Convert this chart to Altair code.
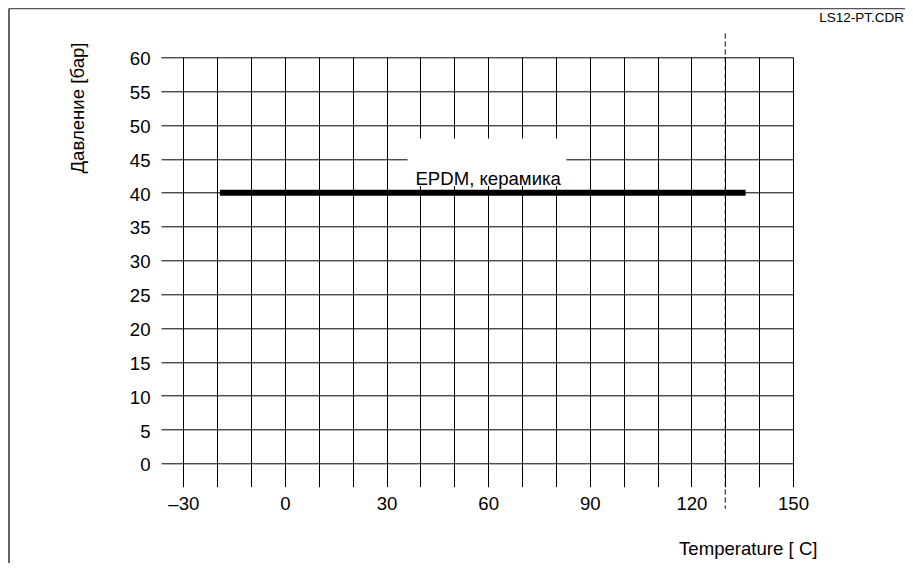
import altair as alt
import pandas as pd

# ---- data ----
x_grid = list(range(-30, 151, 10))          # temperature grid lines
y_grid = list(range(0, 61, 5))              # pressure grid lines
x_domain = [-36.6, 150]
y_domain = [-3.45, 60]

series_name = ["EPDM, керамика"]
series_t_start = [-19.2]
series_t_end = [136]
series_pressure = [40]

limit_temp = [130]
limit_p_top = [63.5]
limit_p_bottom = [-6.7]

box_t = [36.2]
box_t2 = [83.1]
box_p = [41]
box_p2 = [48]

label_t = [60]
label_p = [40]

corner_text = "LS12-PT.CDR"
x_title = "Temperature [ C]"
y_title = "Давление [бар]"

FONT = "Liberation Sans"
FS = 18.6
W, H = 632, 429.4

xscale = alt.Scale(domain=x_domain, nice=False, zero=False)
yscale = alt.Scale(domain=y_domain, nice=False, zero=False)

x_axis = alt.Axis(
    values=x_grid, tickCount=100, grid=True, gridColor="black", gridWidth=1, gridOpacity=1,
    domain=False, ticks=False, tickSize=0,
    labelExpr="datum.value % 30 == 0 ? (datum.value < 0 ? '\u2013' + abs(datum.value) : '' + datum.value) : ''",
    labelFont=FONT, labelFontSize=FS, labelColor="black", labelPadding=7.5,
    labelFlush=False, labelOverlap=False,
    title=x_title, titleFont=FONT, titleFontSize=FS, titleFontWeight="normal",
    titleColor="black", titleX=656, titleY=67.3, titleAlign="right",
    titleBaseline="alphabetic",
)
y_axis = alt.Axis(
    values=y_grid, tickCount=100, grid=True, gridColor="black", gridWidth=1, gridOpacity=1,
    domain=False, ticks=False, tickSize=0,
    labelExpr="'' + datum.value",
    labelFont=FONT, labelFontSize=FS, labelColor="black", labelPadding=11,
    labelBaseline="alphabetic", labelOffset=7.5,
    labelFlush=False, labelOverlap=False,
    title=y_title, titleFont=FONT, titleFontSize=FS, titleFontWeight="normal",
    titleColor="black", titleX=-78, titleY=50.2, titleAlign="center",
    titleBaseline="alphabetic", titleAngle=270,
)

df_series = pd.DataFrame({"name": series_name, "t0": series_t_start,
                          "t1": series_t_end, "p": series_pressure})
df_limit = pd.DataFrame({"t": limit_temp, "p0": limit_p_top, "p1": limit_p_bottom})
df_box = pd.DataFrame({"t0": box_t, "t1": box_t2, "p0": box_p, "p1": box_p2})
df_label = pd.DataFrame({"t": label_t, "p": label_p, "name": series_name})
df_one = pd.DataFrame({"k": [0]})
df_corner = pd.DataFrame({"txt": [corner_text]})

# white box behind the label (covers grid)
box = alt.Chart(df_box).mark_rect(fill="white", stroke=None).encode(
    x=alt.X("t0:Q", scale=xscale, axis=x_axis),
    x2="t1:Q",
    y=alt.Y("p0:Q", scale=yscale, axis=y_axis),
    y2="p1:Q",
)

bar = alt.Chart(df_series).mark_rule(color="black", strokeWidth=6, strokeCap="butt").encode(
    x=alt.X("t0:Q", scale=xscale),
    x2="t1:Q",
    y=alt.Y("p:Q", scale=yscale),
)

limit = alt.Chart(df_limit).mark_rule(color="black", strokeWidth=1, strokeDash=[5, 3]).encode(
    x=alt.X("t:Q", scale=xscale),
    y=alt.Y("p0:Q", scale=yscale),
    y2="p1:Q",
)

label = alt.Chart(df_label).mark_text(
    font=FONT, fontSize=FS, color="black", align="center", baseline="alphabetic", dy=-8
).encode(
    x=alt.X("t:Q", scale=xscale),
    y=alt.Y("p:Q", scale=yscale),
    text="name:N",
)

border_left = alt.Chart(df_one).mark_rule(color="#333333", strokeWidth=1.5).encode(
    x=alt.value(-152), y=alt.value(-48.8), y2=alt.value(H + 90)
)
border_top = alt.Chart(df_one).mark_rule(color="#555555", strokeWidth=1.5).encode(
    x=alt.value(-152), x2=alt.value(780), y=alt.value(-48.8)
)

corner = alt.Chart(df_corner).mark_text(
    font=FONT, fontSize=13.5, color="black", align="right", baseline="alphabetic"
).encode(
    x=alt.value(743), y=alt.value(-35), text="txt:N"
)

chart = alt.layer(box, bar, limit, label, border_left, border_top, corner).properties(
    width=W, height=H,
    autosize=alt.AutoSizeParams(type="none"),
    padding={"left": 153, "top": 49.3, "right": 112, "bottom": 76.3},
    background="white",
).configure_view(stroke=None)

chart.save("out.html", embed_options={"renderer": "svg", "actions": False})
